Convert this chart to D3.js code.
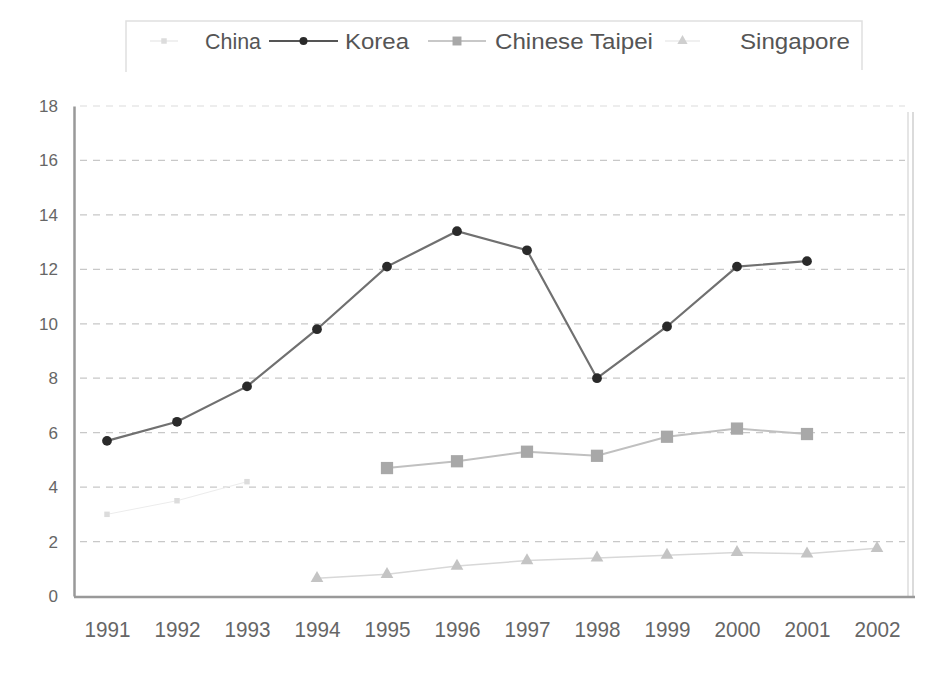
<!DOCTYPE html>
<html>
<head>
<meta charset="utf-8">
<script src="https://cdn.jsdelivr.net/npm/d3@7"></script>
<style>
  html, body { margin: 0; padding: 0; background: #fff; }
  svg { display: block; }
</style>
</head>
<body>
<svg id="chart" width="934" height="677"></svg>
<script>
// ---- data ----
const years = [1991, 1992, 1993, 1994, 1995, 1996, 1997, 1998, 1999, 2000, 2001, 2002];
const yTicks = [0, 2, 4, 6, 8, 10, 12, 14, 16, 18];
const seriesNames = ["China", "Korea", "Chinese Taipei", "Singapore"];
const chinaYears = [1991, 1992, 1993];
const chinaValues = [3.0, 3.5, 4.2];
const koreaYears = [1991, 1992, 1993, 1994, 1995, 1996, 1997, 1998, 1999, 2000, 2001];
const koreaValues = [5.7, 6.4, 7.7, 9.8, 12.1, 13.4, 12.7, 8.0, 9.9, 12.1, 12.3];
const taipeiYears = [1995, 1996, 1997, 1998, 1999, 2000, 2001];
const taipeiValues = [4.7, 4.95, 5.3, 5.15, 5.85, 6.15, 5.95];
const singaporeYears = [1994, 1995, 1996, 1997, 1998, 1999, 2000, 2001, 2002];
const singaporeValues = [0.65, 0.8, 1.1, 1.3, 1.4, 1.5, 1.6, 1.55, 1.75];

const svg = d3.select("#chart");
const FONT = "'Liberation Sans', Arial, sans-serif";

const x = d3.scaleLinear().domain([1991, 2002]).range([107, 877]);
const y = d3.scaleLinear().domain([0, 18]).range([596, 106]);

// gridlines
svg.append("g").selectAll("line")
  .data(yTicks.filter(d => d > 0))
  .join("line")
  .attr("x1", 80).attr("x2", 905)
  .attr("y1", d => y(d)).attr("y2", d => y(d))
  .attr("stroke", d => d === 18 ? "#e8e8e8" : "#c8c8c8")
  .attr("stroke-width", 1.3)
  .attr("stroke-dasharray", "7,6");

// right border of plot (double faint line)
svg.append("line").attr("x1", 908).attr("x2", 908).attr("y1", 112).attr("y2", 597)
  .attr("stroke", "#ddd").attr("stroke-width", 1.5);
svg.append("line").attr("x1", 913).attr("x2", 913).attr("y1", 112).attr("y2", 597)
  .attr("stroke", "#cfcfcf").attr("stroke-width", 1.5);

// axes
const yAxis = svg.append("g").attr("transform", "translate(74,0)")
  .call(d3.axisLeft(y).tickValues(yTicks).tickSize(0).tickPadding(16).tickFormat(d3.format("d")));
yAxis.select(".domain").attr("stroke", "#999").attr("stroke-width", 2.5);
yAxis.selectAll("text").attr("font-family", FONT).attr("font-size", 17).attr("fill", "#666");

const xAxis = svg.append("g").attr("transform", "translate(0,597)")
  .call(d3.axisBottom(x).tickValues(years).tickSize(0).tickPadding(24).tickFormat(d3.format("d")));
xAxis.select(".domain").attr("d", "M74,0H915").attr("stroke", "#999").attr("stroke-width", 2.5);
xAxis.selectAll("text").attr("font-family", FONT)
  .attr("font-size", 22).attr("fill", "#666")
  .attr("textLength", 46).attr("lengthAdjust", "spacingAndGlyphs");

const line = d3.line().x(d => x(d[0])).y(d => y(d[1]));

function drawSeries(xs, vs, stroke, sw, sym, size, fill) {
  const pts = xs.map((yr, i) => [yr, vs[i]]);
  svg.append("path").datum(pts).attr("d", line)
    .attr("fill", "none").attr("stroke", stroke).attr("stroke-width", sw);
  svg.append("g").selectAll("path").data(pts).join("path")
    .attr("transform", d => `translate(${x(d[0])},${y(d[1])})`)
    .attr("d", d3.symbol().type(sym).size(size))
    .attr("fill", fill);
}

drawSeries(chinaYears, chinaValues, "#ececec", 1, d3.symbolSquare, 30, "#dcdcdc");
drawSeries(singaporeYears, singaporeValues, "#d8d8d8", 1.5, d3.symbolTriangle, 70, "#c4c4c4");
drawSeries(taipeiYears, taipeiValues, "#c0c0c0", 2, d3.symbolSquare, 150, "#a8a8a8");
drawSeries(koreaYears, koreaValues, "#707070", 2.2, d3.symbolCircle, 75, "#2a2a2a");

// legend
const lg = svg.append("g");
lg.append("path").attr("d", "M126,72V21H862V70").attr("fill", "none").attr("stroke", "#e0e0e0").attr("stroke-width", 1.5);
const legendItems = [
  { name: seriesNames[0], lx1: 150, lx2: 178, sym: d3.symbolSquare, size: 30, fill: "#dcdcdc", stroke: "#f0f0f0", tx: 205, tw: 56 },
  { name: seriesNames[1], lx1: 269, lx2: 338, sym: d3.symbolCircle, size: 50, fill: "#2a2a2a", stroke: "#555", tx: 345, tw: 64 },
  { name: seriesNames[2], lx1: 428, lx2: 486, sym: d3.symbolSquare, size: 80, fill: "#a8a8a8", stroke: "#c8c8c8", tx: 495, tw: 158 },
  { name: seriesNames[3], lx1: 665, lx2: 700, sym: d3.symbolTriangle, size: 45, fill: "#cfcfcf", stroke: "#f0f0f0", tx: 740, tw: 110 }
];
legendItems.forEach(it => {
  lg.append("line").attr("x1", it.lx1).attr("x2", it.lx2).attr("y1", 41).attr("y2", 41)
    .attr("stroke", it.stroke).attr("stroke-width", 2);
  lg.append("path").attr("transform", `translate(${(it.lx1 + it.lx2) / 2},41)`)
    .attr("d", d3.symbol().type(it.sym).size(it.size)).attr("fill", it.fill);
  lg.append("text").attr("x", it.tx).attr("y", 49).text(it.name)
    .attr("font-family", FONT).attr("font-size", 22).attr("fill", "#555")
    .attr("textLength", it.tw).attr("lengthAdjust", "spacingAndGlyphs");
});
</script>
</body>
</html>
